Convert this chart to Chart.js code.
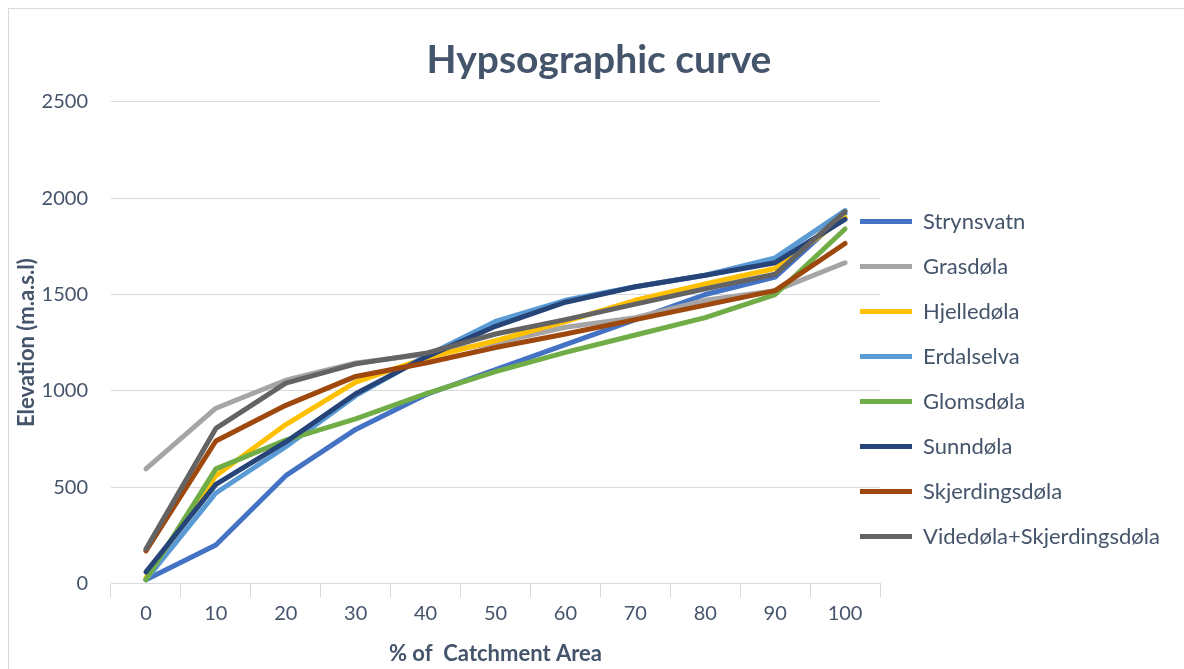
<!DOCTYPE html>
<html>
<head>
<meta charset="utf-8">
<script src="https://cdn.jsdelivr.net/npm/chart.js@4.4.1/dist/chart.umd.min.js"></script>
<style>
  html, body { margin: 0; padding: 0; background: #fff; overflow: hidden; }
  #frame {
    position: absolute; left: 8px; top: 8px;
    width: 1180px; height: 665px;
    border: 1px solid #d9d9d9;
  }
  #wrap { position: absolute; left: 0; top: 0; width: 1175px; height: 660px; }
</style>
</head>
<body>
<div id="frame"><div id="wrap"><canvas id="hypso"></canvas></div></div>
<script>
/*************************************************
 * DATA
 *************************************************/
const CATEGORIES = ["0", "10", "20", "30", "40", "50", "60", "70", "80", "90", "100"];

const STRYNSVATN  = [20, 200, 560, 800, 980, 1110, 1240, 1370, 1500, 1590, 1920];
const GRASDOLA    = [595, 910, 1055, 1145, 1190, 1250, 1330, 1380, 1470, 1520, 1665];
const HJELLEDOLA  = [30, 560, 825, 1045, 1170, 1260, 1360, 1470, 1555, 1635, 1900];
const ERDALSELVA  = [20, 470, 710, 975, 1180, 1360, 1470, 1540, 1600, 1690, 1935];
const GLOMSDOLA   = [20, 595, 745, 855, 985, 1100, 1200, 1290, 1380, 1500, 1840];
const SUNNDOLA    = [60, 515, 735, 985, 1175, 1335, 1460, 1540, 1600, 1665, 1890];
const SKJERDINGS  = [170, 740, 925, 1075, 1145, 1225, 1295, 1370, 1445, 1520, 1765];
const VIDEDOLA    = [180, 805, 1040, 1140, 1195, 1295, 1370, 1450, 1530, 1605, 1930];

const Y_MIN = 0;
const Y_MAX = 2500;
const Y_STEP = 500;

const SERIES = [
  { label: "Strynsvatn", data: STRYNSVATN, color: "#4472c4" },
  { label: "Grasdøla", data: GRASDOLA, color: "#a5a5a5" },
  { label: "Hjelledøla", data: HJELLEDOLA, color: "#ffc000" },
  { label: "Erdalselva", data: ERDALSELVA, color: "#5b9bd5" },
  { label: "Glomsdøla", data: GLOMSDOLA, color: "#70ad47" },
  { label: "Sunndøla", data: SUNNDOLA, color: "#264478" },
  { label: "Skjerdingsdøla", data: SKJERDINGS, color: "#9e480e" },
  { label: "Videdøla+Skjerdingsdøla", data: VIDEDOLA, color: "#636363" }
];

/*************************************************
 * STYLE
 *************************************************/
const TEXT = "#44546a";
const GRID = "#d9d9d9";
const FONT = "Lato, 'Noto Sans', sans-serif";
const LEGEND_SHIFT_X = 43;
const LEGEND_SHIFT_Y = 41;
const Y_AXIS_WIDTH = 97;

// legend sits a bit into the plot area like in Excel
const shiftLegend = {
  id: "shiftLegend",
  afterLayout(chart) {
    const lg = chart.legend;
    lg.left -= LEGEND_SHIFT_X;
    lg.top += LEGEND_SHIFT_Y;
    lg.bottom += LEGEND_SHIFT_Y;
  }
};

/*************************************************
 * CHART
 *************************************************/
const datasets = SERIES.map((s, i) => ({
  label: s.label,
  data: s.data,
  borderColor: s.color,
  backgroundColor: s.color,
  borderWidth: 5,
  borderCapStyle: "round",
  borderJoinStyle: "round",
  pointRadius: 0,
  tension: 0,
  order: SERIES.length - i
}));

new Chart(document.getElementById("hypso"), {
  type: "line",
  data: { labels: CATEGORIES, datasets },
  plugins: [shiftLegend],
  options: {
    responsive: true,
    maintainAspectRatio: false,
    animation: false,
    layout: { padding: { left: 5, right: 0, top: 0, bottom: 2 } },
    plugins: {
      tooltip: { enabled: false },
      title: {
        display: true,
        text: "Hypsographic curve",
        color: TEXT,
        font: { family: FONT, size: 39, weight: "bold" },
        padding: { top: 28, bottom: 18 }
      },
      legend: {
        position: "right",
        maxWidth: 304,
        labels: {
          color: TEXT,
          font: { family: FONT, size: 22 },
          usePointStyle: true,
          pointStyle: "line",
          pointStyleWidth: 52,
          padding: 23,
          sort: (a, b) => a.datasetIndex - b.datasetIndex
        }
      }
    },
    scales: {
      x: {
        offset: true,
        grid: {
          offset: true,
          drawOnChartArea: false,
          drawTicks: true,
          tickLength: 14,
          color: GRID
        },
        border: { color: GRID },
        ticks: { color: TEXT, font: { family: FONT, size: 20 }, padding: 4, maxRotation: 0 },
        title: {
          display: true,
          text: "% of  Catchment Area",
          color: TEXT,
          font: { family: FONT, size: 22, weight: "bold" },
          padding: { top: 11, bottom: 0 }
        }
      },
      y: {
        min: Y_MIN,
        max: Y_MAX,
        afterFit: scale => { scale.width = Y_AXIS_WIDTH; },
        grid: { color: GRID, drawTicks: false },
        border: { display: false },
        ticks: {
          stepSize: Y_STEP,
          color: TEXT,
          font: { family: FONT, size: 20 },
          padding: 23,
          callback: v => String(v)
        },
        title: {
          display: true,
          text: "Elevation (m.a.s.l)",
          color: TEXT,
          font: { family: FONT, size: 22, weight: "bold" },
          padding: { top: 0, bottom: 0 }
        }
      }
    }
  }
});
</script>
</body>
</html>
